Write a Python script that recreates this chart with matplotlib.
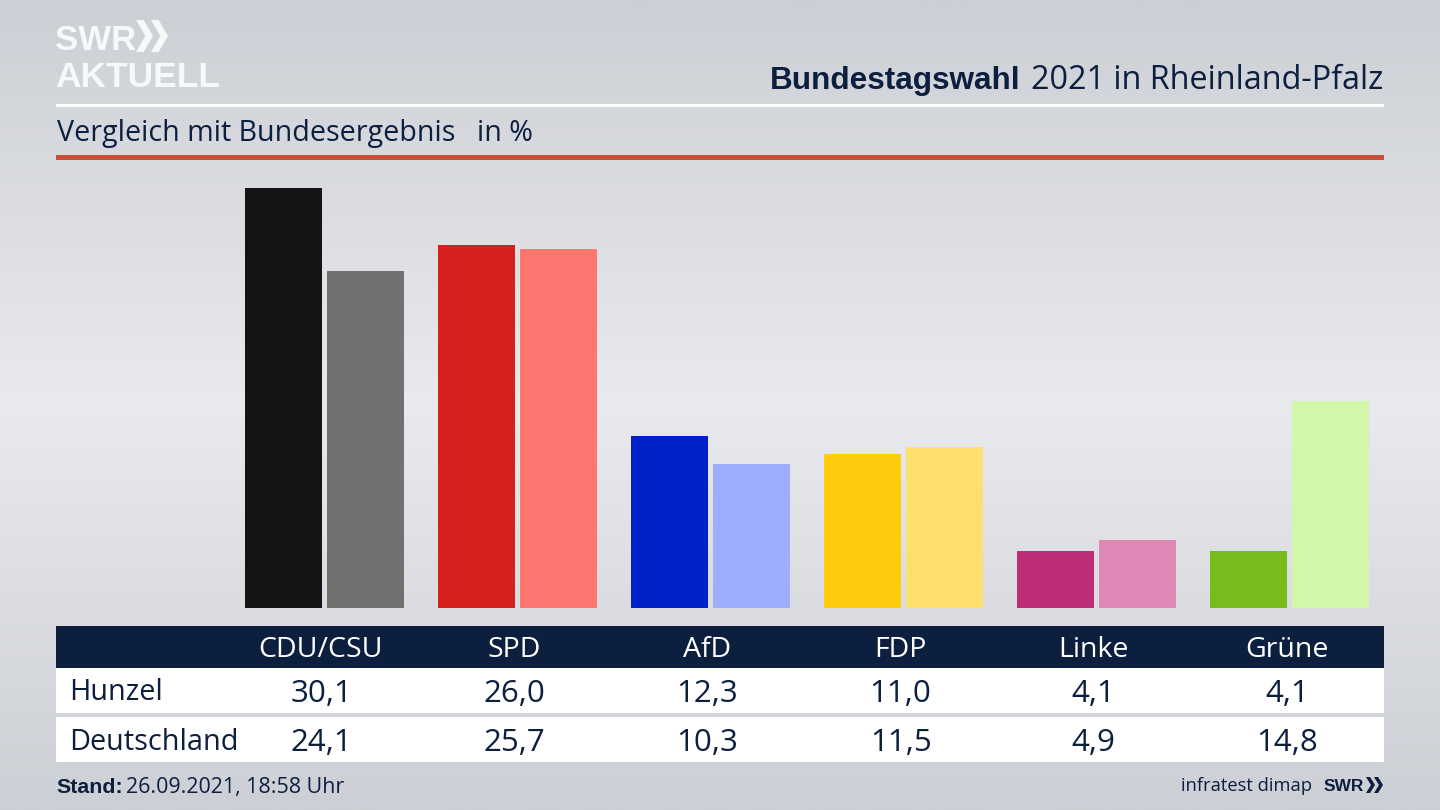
import matplotlib

matplotlib.use("Agg")
import matplotlib.pyplot as plt
import numpy as np
from matplotlib.patches import Polygon, Rectangle

parties = ["CDU/CSU", "SPD", "AfD", "FDP", "Linke", "Grüne"]
hunzel = [30.1, 26.0, 12.3, 11.0, 4.1, 4.1]
deutschland = [24.1, 25.7, 10.3, 11.5, 4.9, 14.8]
hunzel_labels = ["30,1", "26,0", "12,3", "11,0", "4,1", "4,1"]
deutschland_labels = ["24,1", "25,7", "10,3", "11,5", "4,9", "14,8"]
hunzel_colors = ["#141414", "#d71f1d", "#0021c7", "#ffcb0b", "#bc2e76", "#78bc1b"]
deutschland_colors = ["#72716f", "#ff7570", "#9fadff", "#ffe06f", "#df88b6", "#d2f6aa"]

NAVY = "#0c1f3f"
FONT = "Open Sans"
BOLD = "Liberation Sans"
W, H = 1440, 810

plt.rcParams["font.family"] = [FONT, "DejaVu Sans"]

fig = plt.figure(figsize=(14.4, 8.1), dpi=100)

# overlay in pixel coords for background, header and table
bg = fig.add_axes([0, 0, 1, 1])
bg.set_xlim(0, W)
bg.set_ylim(H, 0)
bg.axis("off")

top = np.array([204, 207, 213]) / 255
mid = np.array([233, 234, 237]) / 255
rows = np.linspace(0, 1, 400)
shade = 1 - np.abs(rows - 0.5) * 2
img = top[None, :] + (mid - top)[None, :] * shade[:, None]
bg.imshow(img[:, None, :], extent=[0, W, H, 0], aspect="auto", zorder=0)


def box(x, y, w, h, color):
    bg.add_patch(Rectangle((x, y), w, h, facecolor=color, linewidth=0, zorder=2))


def chevrons(x, y, w, h, step, color):
    for dx in [0, step]:
        pts = [
            (x + dx, y),
            (x + dx + w * 0.45, y),
            (x + dx + w, y + h / 2),
            (x + dx + w * 0.45, y + h),
            (x + dx, y + h),
            (x + dx + w * 0.55, y + h / 2),
        ]
        bg.add_patch(Polygon(pts, closed=True, facecolor=color, linewidth=0, zorder=3))


# logo
bg.text(55, 50, "SWR", fontsize=25, fontweight="bold", color="#f7f8f9", va="baseline", family=BOLD)
bg.text(55, 87, "AKTUELL", fontsize=25.5, fontweight="bold", color="#f7f8f9", va="baseline", family=BOLD)
chevrons(136, 20, 17, 32, 15, "#f7f8f9")

# title
bg.text(1383, 89, "2021 in Rheinland-Pfalz", fontsize=23.3, color=NAVY, ha="right", va="baseline")
bg.text(1020, 89, "Bundestagswahl", fontsize=22.7, fontweight="bold", color=NAVY, ha="right", va="baseline", family=BOLD)

box(56, 104, 1328, 3, "white")
box(56, 155, 1328, 5, "#c9513b")
bg.text(57, 141, "Vergleich mit Bundesergebnis", fontsize=20.6, color=NAVY, va="baseline")
bg.text(477, 141, "in %", fontsize=20.6, color=NAVY, va="baseline")

# bars
ax = fig.add_axes([228 / W, 1 - 608 / H, 1158 / W, 421 / H])
ax.patch.set_alpha(0)
x = np.arange(len(parties))
ax.bar(x - 0.2125, hunzel, width=0.398, color=hunzel_colors)
ax.bar(x + 0.2125, deutschland, width=0.398, color=deutschland_colors)
ax.set_xlim(-0.5, 5.5)
ax.set_ylim(0, 30.15)
ax.axis("off")

# table
box(56, 626, 1328, 42, NAVY)
box(56, 668, 1328, 45, "white")
box(56, 717, 1328, 45, "white")
bg.text(69, 693, "Hunzel", fontsize=20.8, color=NAVY, va="center", zorder=4)
bg.text(69, 742, "Deutschland", fontsize=20.8, color=NAVY, va="center", zorder=4)
for i, party in enumerate(parties):
    cx = 321 + i * 193.2
    bg.text(cx, 650, party, fontsize=20.5, color="white", ha="center", va="center", zorder=4)
    bg.text(cx, 694, hunzel_labels[i], fontsize=22.5, color=NAVY, ha="center", va="center", zorder=4)
    bg.text(cx, 743, deutschland_labels[i], fontsize=22.5, color=NAVY, ha="center", va="center", zorder=4)

# footer
bg.text(56, 793, "Stand:", fontsize=15.4, fontweight="bold", color=NAVY, va="baseline", family=BOLD)
bg.text(126, 793, "26.09.2021, 18:58 Uhr", fontsize=15.4, color=NAVY, va="baseline")
bg.text(1312, 791, "infratest dimap", fontsize=13.2, color=NAVY, ha="right", va="baseline")
bg.text(1324, 791, "SWR", fontsize=12.5, fontweight="bold", color=NAVY, va="baseline", family=BOLD)
chevrons(1366, 777, 9, 16, 8, NAVY)

fig.savefig("out.png", dpi=100)
plt.close(fig)
